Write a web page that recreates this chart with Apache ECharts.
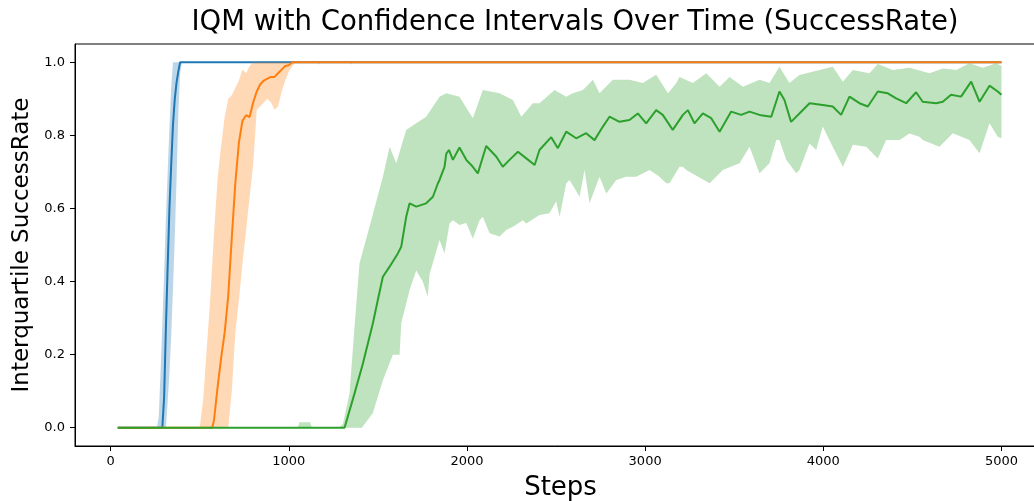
<!DOCTYPE html>
<html lang="en">
<head>
    <meta charset="utf-8">
    <title>IQM with Confidence Intervals Over Time</title>
    <script src="https://cdn.jsdelivr.net/npm/echarts@6/dist/echarts.min.js"></script>
    <style>
        html, body { margin: 0; padding: 0; background: #fff; }
    </style>
</head>
<body>
<div id="chart" style="width: 1034px;height:501px;"></div>

<script>
    // tick labels
    let xTicks = [0, 1000, 2000, 3000, 4000, 5000];
    let yTicks = [0, 0.2, 0.4, 0.6, 0.8, 1.0];

    // [step, value]
    let blueMean = [[40, 0], [290, 0], [300, 0.08], [310, 0.27], [320, 0.44], [330, 0.6], [340, 0.72], [350, 0.83],
        [360, 0.9], [370, 0.945], [380, 0.975], [390, 1], [5000, 1]];
    let blueHi = [[40, 0], [260, 0], [270, 0.03], [280, 0.15], [290, 0.28], [300, 0.42], [310, 0.57], [320, 0.7],
        [330, 0.82], [340, 0.93], [350, 1], [5000, 1]];
    let blueLo = [[40, 0], [310, 0], [320, 0.07], [330, 0.15], [340, 0.25], [350, 0.38], [360, 0.52], [370, 0.68],
        [380, 0.86], [390, 0.97], [400, 1], [5000, 1]];

    let orangeMean = [[40, 0], [570, 0], [580, 0.02], [600, 0.11], [620, 0.19], [640, 0.26], [660, 0.36], [680, 0.52],
        [700, 0.67], [720, 0.78], [740, 0.84], [760, 0.855], [780, 0.85], [800, 0.89], [820, 0.92], [840, 0.94],
        [860, 0.95], [880, 0.955], [900, 0.96], [920, 0.96], [940, 0.97], [960, 0.98], [980, 0.99], [1000, 0.992],
        [1020, 1], [5000, 1]];
    let orangeHi = [[40, 0], [500, 0], [520, 0.08], [540, 0.22], [560, 0.36], [580, 0.53], [600, 0.68], [620, 0.77],
        [640, 0.85], [660, 0.9], [680, 0.91], [700, 0.93], [720, 0.95], [740, 0.98], [760, 0.97], [780, 0.99],
        [800, 1], [5000, 1]];
    let orangeLo = [[40, 0], [660, 0], [680, 0.1], [700, 0.26], [720, 0.35], [740, 0.45], [760, 0.54], [780, 0.63],
        [800, 0.72], [820, 0.87], [840, 0.88], [860, 0.89], [880, 0.9], [900, 0.89], [920, 0.87], [940, 0.88],
        [960, 0.92], [980, 0.95], [1000, 0.975], [1020, 0.99], [1040, 1], [1160, 1], [1170, 0.993], [1180, 1],
        [1340, 1], [1350, 0.993], [1360, 1], [5000, 1]];

    let greenMean = [[40, 0], [1313, 0], [1369, 0.094], [1416, 0.176], [1472, 0.286], [1500, 0.35], [1528, 0.413],
        [1565, 0.44], [1612, 0.477], [1631, 0.495], [1659, 0.577], [1678, 0.614], [1715, 0.605], [1771, 0.614],
        [1809, 0.632], [1837, 0.669], [1846, 0.678], [1874, 0.714], [1884, 0.75], [1899, 0.76], [1921, 0.733],
        [1958, 0.767], [1996, 0.733], [2033, 0.714], [2061, 0.696], [2108, 0.771], [2164, 0.742], [2201, 0.714],
        [2239, 0.733], [2286, 0.755], [2333, 0.737], [2380, 0.719], [2407, 0.76], [2473, 0.795], [2510, 0.765],
        [2557, 0.81], [2613, 0.792], [2669, 0.806], [2716, 0.787], [2763, 0.824], [2800, 0.851], [2856, 0.837],
        [2912, 0.842], [2959, 0.86], [3006, 0.833], [3062, 0.869], [3099, 0.856], [3155, 0.815], [3212, 0.856],
        [3240, 0.869], [3277, 0.833], [3324, 0.86], [3371, 0.847], [3418, 0.81], [3483, 0.865], [3539, 0.856],
        [3586, 0.865], [3642, 0.856], [3708, 0.851], [3754, 0.92], [3782, 0.897], [3819, 0.837], [3866, 0.86],
        [3923, 0.888], [3997, 0.883], [4053, 0.879], [4100, 0.856], [4147, 0.906], [4203, 0.888], [4250, 0.879],
        [4306, 0.92], [4362, 0.915], [4409, 0.901], [4465, 0.888], [4521, 0.918], [4558, 0.892], [4633, 0.888],
        [4671, 0.892], [4717, 0.911], [4773, 0.906], [4830, 0.947], [4877, 0.892], [4933, 0.936], [4979, 0.92],
        [5000, 0.911]];
    let greenHi = [[40, 0], [1050, 0], [1060, 0.015], [1120, 0.015], [1130, 0], [1280, 0], [1304, 0.01],
        [1341, 0.094], [1369, 0.276], [1397, 0.45], [1463, 0.568], [1528, 0.687], [1566, 0.769], [1603, 0.724],
        [1659, 0.815], [1715, 0.833], [1771, 0.851], [1846, 0.906], [1884, 0.915], [1958, 0.906], [2033, 0.847],
        [2089, 0.924], [2183, 0.915], [2258, 0.897], [2305, 0.851], [2370, 0.888], [2407, 0.888], [2492, 0.924],
        [2557, 0.906], [2594, 0.915], [2651, 0.924], [2707, 0.952], [2744, 0.915], [2819, 0.952], [2912, 0.952],
        [2987, 0.943], [3062, 0.966], [3128, 0.915], [3175, 0.943], [3193, 0.96], [3268, 0.943], [3343, 0.97],
        [3418, 0.933], [3474, 0.96], [3549, 0.933], [3642, 0.952], [3698, 0.943], [3754, 0.988], [3810, 0.943],
        [3866, 0.965], [3979, 0.979], [4053, 0.988], [4110, 0.947], [4166, 0.979], [4259, 0.97], [4306, 0.995],
        [4390, 0.979], [4484, 0.985], [4596, 0.97], [4671, 0.983], [4746, 0.979], [4820, 0.997], [4895, 0.985],
        [4970, 0.997], [5000, 0.99]];
    let greenLo = [[40, 0], [1410, 0], [1472, 0.04], [1528, 0.13], [1584, 0.2], [1622, 0.2], [1631, 0.286],
        [1678, 0.377], [1715, 0.43], [1752, 0.4], [1780, 0.359], [1790, 0.42], [1846, 0.514], [1874, 0.477],
        [1902, 0.559], [1921, 0.568], [1958, 0.555], [1996, 0.56], [2033, 0.518], [2071, 0.568], [2089, 0.577],
        [2127, 0.532], [2183, 0.523], [2220, 0.541], [2258, 0.55], [2314, 0.568], [2333, 0.559], [2407, 0.582],
        [2463, 0.587], [2501, 0.62], [2520, 0.577], [2557, 0.669], [2576, 0.678], [2632, 0.632], [2660, 0.705],
        [2688, 0.614], [2744, 0.687], [2782, 0.641], [2838, 0.678], [2894, 0.687], [2950, 0.687], [3025, 0.705],
        [3081, 0.687], [3118, 0.669], [3137, 0.669], [3193, 0.714], [3212, 0.714], [3231, 0.705], [3362, 0.669],
        [3436, 0.705], [3530, 0.724], [3586, 0.769], [3642, 0.696], [3698, 0.724], [3736, 0.787], [3754, 0.787],
        [3792, 0.733], [3848, 0.696], [3866, 0.705], [3923, 0.778], [3960, 0.76], [3997, 0.824], [4053, 0.769],
        [4110, 0.714], [4166, 0.774], [4241, 0.769], [4306, 0.737], [4353, 0.787], [4428, 0.787], [4484, 0.805],
        [4540, 0.796], [4558, 0.787], [4652, 0.769], [4727, 0.806], [4820, 0.787], [4877, 0.751], [4933, 0.833],
        [4979, 0.796], [5000, 0.792]];

    let font = 'DejaVu Sans';
    let myChart = echarts.init(document.getElementById('chart'));

    // shaded interval: one polygon, upper edge then lower edge backwards
    function band(hi, lo, color, z) {
        return {
            type: 'custom',
            z: z,
            silent: true,
            clip: true,
            data: [[hi[0][0], hi[0][1]]],
            renderItem: function (params, api) {
                let pts = [];
                for (let i = 0; i < hi.length; i++) pts.push(api.coord(hi[i]));
                for (let i = lo.length - 1; i >= 0; i--) pts.push(api.coord(lo[i]));
                return {type: 'polygon', shape: {points: pts}, style: {fill: color}};
            }
        };
    }

    function line(data, color, z) {
        return {
            type: 'line',
            z: z,
            data: data,
            symbol: 'none',
            silent: true,
            lineStyle: {color: color, width: 2}
        };
    }

    let option = {
        animation: false,
        title: {
            text: 'IQM with Confidence Intervals Over Time (SuccessRate)',
            left: 575,
            top: 9,
            padding: 0,
            textAlign: 'center',
            textStyle: {fontFamily: font, fontSize: 27.5, fontWeight: 'normal', color: '#000'}
        },
        grid: {
            left: 75, top: 44, width: 971, height: 402,
            outerBoundsMode: 'none',
            containLabel: false,
            show: true, borderColor: '#000', borderWidth: 1, backgroundColor: 'transparent'
        },
        xAxis: {
            type: 'value',
            min: -200,
            max: 5250,
            name: 'Steps',
            nameLocation: 'middle',
            nameGap: 29,
            nameTextStyle: {fontFamily: font, fontSize: 26, color: '#000'},
            axisLine: {show: true, onZero: false, lineStyle: {color: '#000', width: 1}},
            axisTick: {show: true, inside: false, length: 5, customValues: xTicks, lineStyle: {color: '#000'}},
            axisLabel: {
                customValues: xTicks, margin: 9, fontFamily: font, fontSize: 13, color: '#000',
                formatter: function (v) { return String(v); }
            },
            splitLine: {show: false}
        },
        yAxis: {
            type: 'value',
            min: -0.05,
            max: 1.05,
            name: 'Interquartile SuccessRate',
            nameLocation: 'middle',
            nameRotate: 90,
            nameGap: 41,
            nameTextStyle: {fontFamily: font, fontSize: 23, color: '#000'},
            axisLine: {show: true, onZero: false, lineStyle: {color: '#000', width: 1}},
            axisTick: {show: true, inside: false, length: 5, customValues: yTicks, lineStyle: {color: '#000'}},
            axisLabel: {
                customValues: yTicks, margin: 10, fontFamily: font, fontSize: 13, color: '#000',
                formatter: function (v) { return v.toFixed(1); }
            },
            splitLine: {show: false}
        },
        series: [
            band(blueHi, blueLo, 'rgba(31,119,180,0.3)', 1),
            line(blueMean, '#1f77b4', 2),
            band(orangeHi, orangeLo, 'rgba(255,127,14,0.3)', 3),
            line(orangeMean, '#ff7f0e', 4),
            band(greenHi, greenLo, 'rgba(44,160,44,0.3)', 5),
            line(greenMean, '#2ca02c', 6)
        ]
    };
    myChart.setOption(option);
</script>
</body>
</html>
